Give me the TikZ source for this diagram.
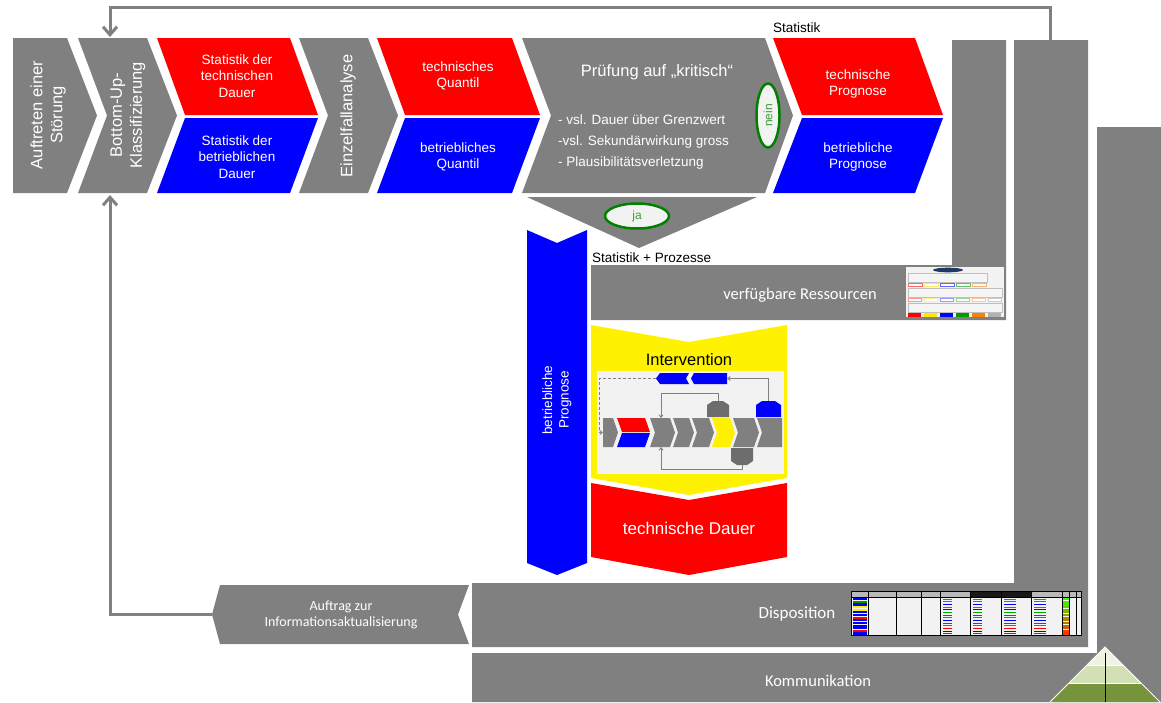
\documentclass[tikz,border=0pt]{standalone}
\usepackage{fontspec}
\setmainfont{Liberation Sans}
\newfontfamily\calibri{Carlito}
\usetikzlibrary{arrows.meta,shapes.geometric}

\definecolor{dgrey}{RGB}{128,128,128}
\definecolor{pgrey}{RGB}{242,242,242}
\definecolor{okgreen}{RGB}{0,128,0}
\definecolor{lblgreen}{RGB}{60,160,60}
\definecolor{navy}{RGB}{31,56,100}
\definecolor{pyrA}{RGB}{238,243,226}
\definecolor{pyrB}{RGB}{210,224,181}
\definecolor{pyrC}{RGB}{119,147,60}

\begin{document}
\begin{tikzpicture}[x=1pt,y=-1pt,
  wtxt/.style={text=white,font=\fontsize{13.5}{16.5}\selectfont,align=center,inner sep=0pt},
  vtxt/.style={text=white,font=\fontsize{16.5}{20}\selectfont,align=center,rotate=90,inner sep=0pt},
  ctxt/.style={text=white,font=\calibri\fontsize{16.5}{20}\selectfont,align=center,inner sep=0pt},
  btxt/.style={text=black,font=\fontsize{13.5}{16}\selectfont,anchor=west,inner sep=0pt},
  flow/.style={draw=dgrey,line width=3pt,-{Straight Barb[length=8pt,width=14pt]}},
  decision/.style={ellipse,draw=okgreen,line width=2.5pt,fill=pgrey,text=lblgreen,
    font=\fontsize{12}{14}\selectfont,inner sep=0pt},
  miniflow/.style={draw=dgrey,line width=0.9pt,-{Straight Barb[length=2.5pt,width=4pt]}},
  tcell/.style={fill=pgrey}
]
\useasboundingbox (0,0) rectangle (1161,702);

% ---------- nested feedback bands ----------
\fill[dgrey] (952,40) -- (1006,40) -- (1006,320) -- (591,320) -- (591,265) -- (952,265) -- cycle;
\fill[dgrey] (1014,40) -- (1088,40) -- (1088,647) -- (472,647) -- (472,583) -- (1014,583) -- cycle;
\fill[dgrey] (1097,127) -- (1161,127) -- (1161,702) -- (472,702) -- (472,653) -- (1097,653) -- cycle;

% ---------- process chain (top row) ----------
\fill[dgrey] (13,38) -- (67,38) -- (97,115.5) -- (67,193) -- (13,193) -- cycle;
\fill[dgrey] (78,38) -- (147,38) -- (177,115.5) -- (147,193) -- (78,193) -- (107,115.5) -- cycle;
\fill[red]  (157,38) -- (290,38) -- (318,115) -- (185,115) -- cycle;
\fill[blue] (185,118) -- (318,118) -- (290,193) -- (157,193) -- cycle;
\fill[dgrey] (299,38) -- (368,38) -- (398,115.5) -- (368,193) -- (299,193) -- (328,115.5) -- cycle;
\fill[red]  (377,38) -- (512,38) -- (540,115) -- (405,115) -- cycle;
\fill[blue] (405,118) -- (540,118) -- (512,193) -- (377,193) -- cycle;
\fill[dgrey] (522,38) -- (765,38) -- (793,115.5) -- (765,193) -- (522,193) -- (551,115.5) -- cycle;
\fill[red]  (773,38) -- (915,38) -- (943,115) -- (802,115) -- cycle;
\fill[blue] (802,118) -- (943,118) -- (915,193) -- (773,193) -- cycle;

\node[vtxt] (stoerung) at (48,115) {Auftreten einer\\Störung};
\node[vtxt] (bottomup) at (128,115) {Bottom-Up-\\Klassifizierung};
\node[wtxt] (stattech) at (237,76) {Statistik der\\technischen\\Dauer};
\node[wtxt] (statbetr) at (237,157) {Statistik der\\betrieblichen\\Dauer};
\node[vtxt] (einzel) at (348,116) {Einzelfallanalyse};
\node[wtxt] (quanttech) at (458,76) {technisches\\Quantil};
\node[wtxt] (quantbetr) at (458,157) {betriebliches\\Quantil};
\node[text=white,font=\fontsize{16.5}{20}\selectfont,inner sep=0pt] (pruef) at (657,72) {Prüfung auf „kritisch“};
\node[text=white,font=\fontsize{13.5}{21}\selectfont,align=left,anchor=west,inner sep=0pt] (kriterien) at (558,142)
  {- vsl. Dauer über Grenzwert\\-vsl. Sekundärwirkung gross\\- Plausibilitätsverletzung};
\node[wtxt] (progtech) at (858,84) {technische\\Prognose};
\node[wtxt] (progbetr) at (858,157) {betriebliche\\Prognose};
\node[decision,rotate=90,minimum width=64pt,minimum height=23pt] (nein) at (768,115.5) {nein};

\node[btxt] (statistik) at (773,28) {Statistik};

% ---------- critical branch ----------
\fill[dgrey] (527,197) -- (757,197) -- (639,248) -- cycle;
\node[decision,minimum width=64pt,minimum height=25pt] (ja) at (637,216) {ja};
\node[btxt] (statproz) at (592,258) {Statistik + Prozesse};

\fill[blue] (527,230) -- (557,243) -- (587,230) -- (587,563) -- (557,575) -- (527,563) -- cycle;
\node[wtxt,rotate=90] (betrprog) at (557,400) {betriebliche\\Prognose};

\fill[yellow] (591,325) -- (689,342) -- (787,325) -- (787,478) -- (689,495) -- (591,478) -- cycle;
\fill[red] (591,483) -- (689,500) -- (787,483) -- (787,557) -- (689,575) -- (591,557) -- cycle;
\node[text=black,font=\fontsize{16.5}{20}\selectfont,inner sep=0pt] (interv) at (689,360) {Intervention};
\node[text=white,font=\fontsize{17}{20}\selectfont,inner sep=0pt] (techdauer) at (689,528) {technische Dauer};

% miniature of the intervention process
\fill[pgrey] (597,371) rectangle (784,474);
\fill[blue] (660,373) -- (689,373) -- (686,378.5) -- (689,384) -- (660,384) -- (656,378.5) -- cycle;
\fill[blue] (694,373) -- (727,373) -- (727,384) -- (694,384) -- (691,378.5) -- cycle;
\fill[dgrey] (603,418) -- (613,418) -- (618,432.5) -- (613,447) -- (603,447) -- cycle;
\fill[red]  (617,418) -- (645,418) -- (650,432) -- (622,432) -- cycle;
\fill[blue] (622,433) -- (650,433) -- (645,447) -- (617,447) -- cycle;
\fill[dgrey] (650,418) -- (670,418) -- (675,432.5) -- (670,447) -- (650,447) -- (655,432.5) -- cycle;
\fill[dgrey] (673,418) -- (689,418) -- (694,432.5) -- (689,447) -- (673,447) -- (678,432.5) -- cycle;
\fill[dgrey] (692,418) -- (709,418) -- (714,432.5) -- (709,447) -- (692,447) -- (697,432.5) -- cycle;
\fill[yellow] (712,418) -- (730,418) -- (735,432.5) -- (730,447) -- (712,447) -- (717,432.5) -- cycle;
\fill[dgrey] (733,418) -- (754,418) -- (759,432.5) -- (754,447) -- (733,447) -- (738,432.5) -- cycle;
\fill[dgrey] (757,418) -- (782,418) -- (782,447) -- (757,447) -- (762,432.5) -- cycle;
\fill[dgrey!85!black] (707,417) -- (707,405) -- (713,401) -- (723,401) -- (729,405) -- (729,417) -- cycle;
\fill[blue] (756,417) -- (756,405) -- (762,401) -- (775,401) -- (781,405) -- (781,417) -- cycle;
\fill[dgrey!85!black] (731,448) -- (753,448) -- (753,461) -- (747,465) -- (737,465) -- (731,461) -- cycle;
\coordinate (mVerTop) at (718,401);
\coordinate (mRowTop) at (661,418);
\coordinate (mRowBot) at (661,447);
\coordinate (mTecBot) at (742,465);
\coordinate (mBlueTop) at (768,401);
\coordinate (mPairR) at (727,378.5);
\coordinate (mPairL) at (656,378.5);
\coordinate (mRowL) at (603,432.5);
\draw[miniflow] (mVerTop) -- (718,393) -| (mRowTop);
\draw[miniflow] (mTecBot) -- (742,469) -| (mRowBot);
\draw[miniflow] (mBlueTop) |- (mPairR);
\draw[miniflow,dashed,dash pattern=on 3pt off 2pt] (mPairL) -| (599,432.5) -- (mRowL);

% ---------- resources band ----------
\node[ctxt] (ress) at (800,295) {verfügbare Ressourcen};
\fill[pgrey] (906,267) rectangle (1004,317);
\fill[navy] (948,270) ellipse (15 and 2.3);
\draw[gray!50,fill=white!92!gray,line width=0.6pt] (908,273) rectangle (987,282);
\foreach \c [count=\i from 0] in {red,yellow!80!orange,blue,green!60!black,orange} {
  \draw[\c!60,line width=0.6pt,fill=white] ({908+\i*16},283) rectangle ({922+\i*16},286.5);
}
\draw[gray!50,fill=white!92!gray,line width=0.6pt] (908,288) rectangle (1002,297);
\foreach \c [count=\i from 0] in {red,yellow!80!orange,blue,green!60!black,orange,gray} {
  \draw[\c!40,line width=0.6pt,fill=white] ({908+\i*16},298) rectangle ({921+\i*16},301.5);
}
\draw[gray!50,fill=white!92!gray,line width=0.6pt] (908,303) rectangle (1002,312);
\foreach \c [count=\i from 0] in {red,yellow!90!orange,blue,green!60!black,orange,gray!60} {
  \fill[\c] ({908+\i*16},313) rectangle ({921+\i*16},316.5);
}

% ---------- disposition band ----------
\node[ctxt,font=\calibri\fontsize{17}{20}\selectfont] (dispo) at (797,614) {Disposition};
\fill[black] (851,591) rectangle (1082,636);
\foreach \xa/\xb in {852/868,869/896,897/921,922/940,941/970,971/1001,1002/1031,1032/1062,1063/1069,1070/1076,1077/1081} {
  \fill[gray!55] (\xa,592) rectangle (\xb,597);
  \fill[pgrey] (\xa,598) rectangle (\xb,635);
}
\fill[gray!20!black] (971,592) rectangle (1001,597);
\fill[gray!20!black] (1002,592) rectangle (1031,597);
\foreach \c [count=\i from 0] in {blue,green!60!black,blue,yellow,yellow,blue,blue,red,blue,blue,blue,blue,red,blue} {
  \fill[\c] (853,{598+\i*2.65}) rectangle (867,{598+\i*2.65+2.2});
}
\foreach \i in {0,...,13} {
  \pgfmathtruncatemacro\mix{100*\i/13}
  \fill[red!\mix!green!80!yellow] (1063,{598+\i*2.65}) rectangle (1069,{598+\i*2.65+2.2});
}
\foreach \c [count=\i from 0] in {green!70!black,green!70!black,blue,green!70!black,blue,green!70!black,red,green!70!black,blue,red,green!70!black,red,blue,red} {
  \draw[\c,line width=0.5pt] (943,{599+\i*2.65}) -- (952,{599+\i*2.65});
  \draw[\c,line width=0.5pt] (973,{599+\i*2.65}) -- (982,{599+\i*2.65});
  \draw[\c,line width=0.5pt] (1004,{599+\i*2.65}) -- (1016,{599+\i*2.65});
  \draw[\c,line width=0.5pt] (1034,{599+\i*2.65}) -- (1046,{599+\i*2.65});
}

% ---------- communication band ----------
\node[ctxt] (komm) at (818,681) {Kommunikation};
\fill[pyrC] (1105,647) -- (1050,702) -- (1160,702) -- cycle;
\fill[pyrB] (1105,647) -- (1069,683) -- (1141,683) -- cycle;
\fill[pyrA] (1105,647) -- (1087,665) -- (1123,665) -- cycle;
\draw[white,line width=0.8pt] (1087,665) -- (1123,665) (1069,683) -- (1141,683);
\draw[white,line width=0.8pt] (1050,702) -- (1105,647) -- (1160,702);
\draw[black,line width=0.8pt] (1105,653) -- (1105,702);

% ---------- update order ----------
\fill[dgrey] (220,585) -- (469,585) -- (458,614.5) -- (469,644) -- (220,644) -- (212,614.5) -- cycle;
\node[text=white,font=\calibri\fontsize{14}{16.5}\selectfont,align=center,inner sep=0pt] (auftrag) at (341,615)
  {Auftrag zur\\Informationsaktualisierung};

% ---------- feedback connectors ----------
\coordinate (dispTop) at (1050,40);
\coordinate (buTop) at (110,37);
\coordinate (buBot) at (110,195);
\coordinate (auftragTip) at (212,614.5);
\draw[flow] (dispTop) -- ++(0,-33) -| (buTop);
\draw[flow] (auftragTip) -| (buBot);

\end{tikzpicture}
\end{document}
